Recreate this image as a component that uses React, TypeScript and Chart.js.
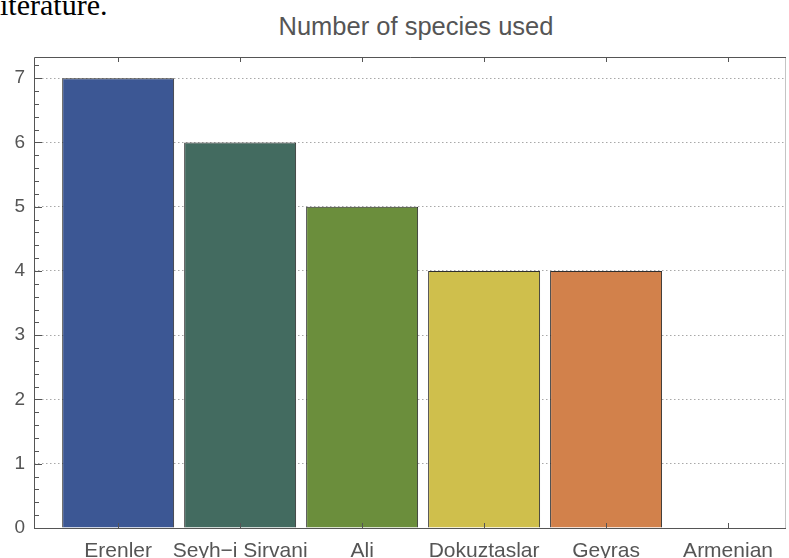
import React, { useEffect, useRef } from "react";
import { Chart, registerables } from "chart.js";

Chart.register(...registerables);

const categories = ["Erenler", "Seyh\u2212i Sirvani", "Ali", "Dokuztaslar", "Geyras", "Armenian"];
const speciesCounts = [7, 6, 5, 4, 4, 0];
const barColors = ["#3c5794", "#436b60", "#6b8e3c", "#cfbf4c", "#d2814b", "#999999"];
const yTickValues = [0, 1, 2, 3, 4, 5, 6, 7];
const minorStep = 0.2;
const titleText = "Number of species used";

const framePlugin = {
  id: "mmaFrame",
  afterDraw(chart: any) {
    const { ctx, chartArea, scales } = chart;
    const { left, right, top, bottom } = chartArea;
    const x = scales.x;
    const y = scales.y;
    ctx.save();
    ctx.lineWidth = 1;
    ctx.strokeStyle = "#c4c4c4";
    ctx.beginPath();
    ctx.moveTo(right - 0.5, top);
    ctx.lineTo(right - 0.5, bottom);
    ctx.stroke();
    ctx.strokeStyle = "#555555";
    ctx.beginPath();
    ctx.moveTo(left + 0.5, bottom + 0.5);
    ctx.lineTo(left + 0.5, top + 0.5);
    ctx.lineTo(right, top + 0.5);
    ctx.moveTo(left, bottom + 0.5);
    ctx.lineTo(right, bottom + 0.5);
    ctx.stroke();
    const maxV = yTickValues[yTickValues.length - 1];
    const n = Math.round(maxV / minorStep) + 1;
    ctx.beginPath();
    for (let k = 0; k <= n; k++) {
      const v = k * minorStep;
      if (v > y.max) break;
      const py = Math.round(y.getPixelForValue(v)) + 0.5;
      const major = k % Math.round(1 / minorStep) === 0;
      ctx.moveTo(left, py);
      ctx.lineTo(left + (major ? 8 : 5), py);
    }
    categories.forEach((_, i) => {
      const px = Math.round(x.getPixelForValue(i)) + 0.5;
      ctx.moveTo(px, top);
      ctx.lineTo(px, top + 5);
      ctx.moveTo(px, bottom);
      ctx.lineTo(px, bottom - 5);
    });
    ctx.stroke();
    ctx.restore();
  },
};

export default function App() {
  const canvasRef = useRef<HTMLCanvasElement | null>(null);

  useEffect(() => {
    if (!canvasRef.current) return;
    const chart = new Chart(canvasRef.current, {
      type: "bar",
      data: {
        datasets: [
          {
            data: speciesCounts.map((v, i) => ({ x: i, y: v })),
            backgroundColor: barColors,
            borderColor: "#2e2e2e",
            borderWidth: 1,
            categoryPercentage: 1,
            barPercentage: 0.918,
          },
        ],
      },
      options: {
        animation: false,
        responsive: false,
        devicePixelRatio: 1,
        layout: { padding: { top: 57, right: 3, left: 0, bottom: 0 } },
        plugins: {
          legend: { display: false },
          tooltip: { enabled: false },
          title: { display: false },
        },
        scales: {
          x: {
            type: "linear",
            min: -0.69,
            max: 5.475,
            offset: false,
            grid: { display: false },
            border: { display: false },
            afterBuildTicks: (scale: any) => {
              scale.ticks = categories.map((_, i) => ({ value: i }));
            },
            afterFit: (scale: any) => {
              scale.height = 30;
            },
            ticks: {
              autoSkip: false,
              maxRotation: 0,
              padding: 3,
              color: "#555555",
              font: { family: "Liberation Sans, Arial, sans-serif", size: 21 },
              callback: (v: any) => categories[v as number] ?? "",
            },
          },
          y: {
            type: "linear",
            min: 0,
            max: 7.33,
            grid: { color: "#a8a8a8", lineWidth: 1, drawTicks: false },
            border: { display: false, dash: [1.5, 2.5] },
            afterBuildTicks: (scale: any) => {
              scale.ticks = yTickValues.map((v) => ({ value: v }));
            },
            afterFit: (scale: any) => {
              scale.width = 34;
            },
            ticks: {
              padding: 9,
              color: "#555555",
              font: { family: "Liberation Sans, Arial, sans-serif", size: 19 },
            },
          },
        },
      },
      plugins: [framePlugin],
    });
    return () => chart.destroy();
  }, []);

  return (
    <div style={{ position: "fixed", left: 0, top: 0, width: 789, height: 558, background: "#fff", overflow: "hidden" }}>
      <div
        style={{
          position: "absolute",
          left: -8.3,
          top: -10,
          font: "30px 'Liberation Serif', 'Times New Roman', serif",
          lineHeight: "30px",
          color: "#000",
          whiteSpace: "nowrap",
        }}
      >
        literature.
      </div>
      <div
        style={{
          position: "absolute",
          left: 416,
          top: 11,
          transform: "translateX(-50%)",
          font: "25.5px 'Liberation Sans', Arial, sans-serif",
          lineHeight: "30px",
          color: "#555555",
          whiteSpace: "nowrap",
        }}
      >
        {titleText}
      </div>
      <canvas ref={canvasRef} width={789} height={558} style={{ position: "absolute", left: 0, top: 0, width: 789, height: 558 }} />
    </div>
  );
}
